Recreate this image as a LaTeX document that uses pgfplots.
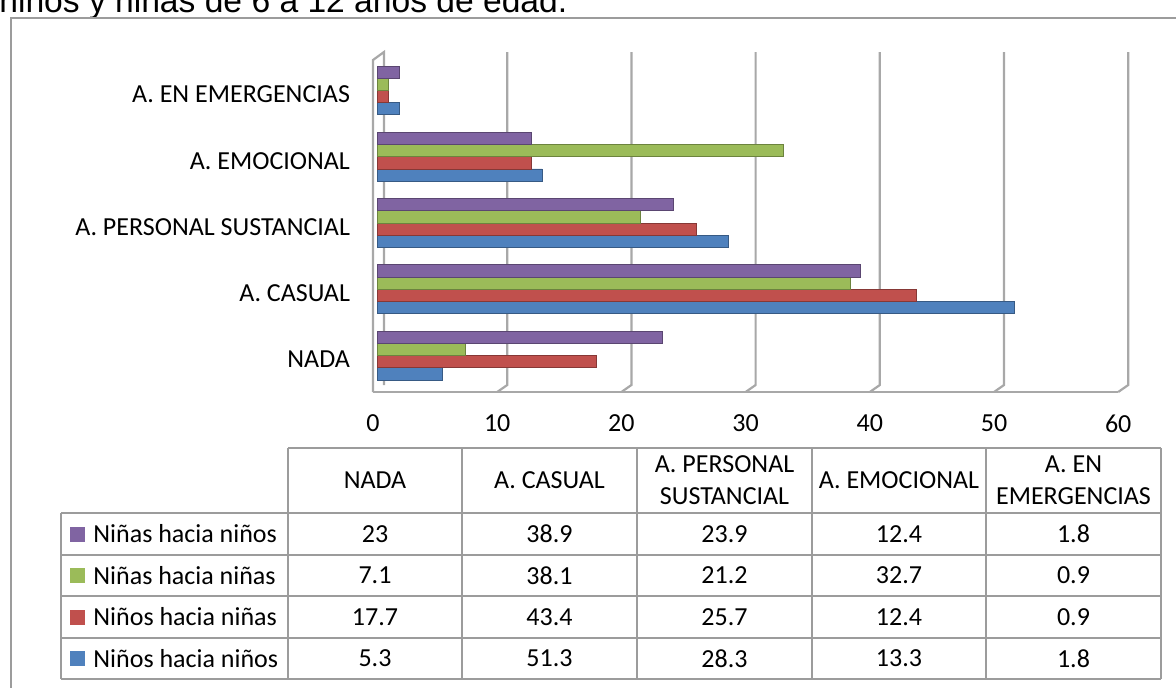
\documentclass[border=0pt]{standalone}
\usepackage{fontspec}
\setmainfont{Carlito}
\newfontfamily\arialfont{Liberation Sans}
\usepackage{pgfplots}
\usepackage{pgfplotstable}
\pgfplotsset{compat=1.18}

\definecolor{cblue}{HTML}{4F81BD}
\definecolor{cred}{HTML}{C0504D}
\definecolor{cgreen}{HTML}{9BBB59}
\definecolor{cpurple}{HTML}{8064A2}
\definecolor{gridc}{HTML}{A8A8A8}
\definecolor{tabc}{HTML}{9C9C9C}

% rows = categories (0 NADA ... 4 A. EN EMERGENCIAS)
\pgfplotstableread{
idx NN NNa NaNa NaN
0 5.3 17.7 7.1 23
1 51.3 43.4 38.1 38.9
2 28.3 25.7 21.2 23.9
3 13.3 12.4 32.7 12.4
4 1.8 0.9 0.9 1.8
}\data

\begin{document}
\fontsize{13}{16}\selectfont
\begin{tikzpicture}
\useasboundingbox (0,0) rectangle (588pt,-343.5pt);
\begin{scope}[x=0.5pt,y=-0.5pt]
\clip (0,0) rectangle (1176,687);
% title (cut at top)
\node[anchor=base west, inner sep=0, font=\arialfont\fontsize{16.8}{19}\selectfont] at (-1,12) {niños y niñas de 6 a 12 años de edad.};
% outer frame
\draw[tabc, line width=0.8pt] (11,720) -- (11,18) -- (1200,18);
% 3D walls and grid
\draw[gridc, line width=1.1pt] (373,392) -- (373,60) -- (384,52) -- (384,385);
\draw[gridc, line width=1.1pt] (373,392) -- (1118,392);
\foreach \v in {10,20,...,60} {
  \pgfmathsetmacro\xf{373+\v*12.42}
  \draw[gridc, line width=1.1pt] (\xf,392) -- (\xf+10,385) -- (\xf+10,52);
}
% data table grid
\draw[tabc, line width=0.8pt] (288,448) -- (1161,448);
\foreach \yy in {513,555,596,638,679} {
  \draw[tabc, line width=0.8pt] (61,\yy) -- (1161,\yy);
}
\draw[tabc, line width=0.8pt] (61,513) -- (61,679);
\foreach \xx in {288,462,637,812,986,1161} {
  \draw[tabc, line width=0.8pt] (\xx,448) -- (\xx,679);
}
% header
\node[align=center] at (375,480.5) {NADA};
\node[align=center] at (549.5,480.5) {A. CASUAL};
\node[align=center] at (724.5,480.5) {A. PERSONAL\\SUSTANCIAL};
\node[align=center] at (899,480.5) {A. EMOCIONAL};
\node[align=center] at (1073.5,480.5) {A. EN\\EMERGENCIAS};
% body
\foreach \s/\yy/\col/\lab in {NaN/534/cpurple/Niñas hacia niños, NaNa/575.5/cgreen/Niñas hacia niñas, NNa/617/cred/Niños hacia niñas, NN/658.5/cblue/Niños hacia niños} {
  \fill[\col] (70,\yy-7.5) rectangle (85,\yy+7.5);
  \node[anchor=west, inner sep=0] at (93,\yy) {\lab};
  \foreach \c/\xx in {0/375,1/549.5,2/724.5,3/899,4/1073.5} {
    \pgfplotstablegetelem{\c}{\s}\of\data
    \node at (\xx,\yy) {\pgfplotsretval};
  }
}
\end{scope}

\begin{axis}[
  at={(186.5pt,-196pt)}, anchor=south west,
  scale only axis, width=372.6pt, height=169pt,
  xmin=0, xmax=60, ymin=-0.55, ymax=4.55,
  axis line style={draw=none}, major tick length=0pt,
  xbar=0pt, bar width=6.1pt,
  xtick={0,10,...,60}, ytick={0,1,2,3,4},
  yticklabels={NADA, A. CASUAL, A. PERSONAL SUSTANCIAL, A. EMOCIONAL, A. EN EMERGENCIAS},
  xticklabel style={yshift=-7pt},
  yticklabel style={xshift=-7pt, yshift=-2pt},
  /pgf/number format/assume math mode=true,
  clip=false,
  every axis plot/.append style={xshift=2pt},
]
\addplot[fill=cblue, draw=cblue!70!black, line width=0.4pt] table[x=NN, y=idx] {\data};
\addplot[fill=cred, draw=cred!70!black, line width=0.4pt] table[x=NNa, y=idx] {\data};
\addplot[fill=cgreen, draw=cgreen!70!black, line width=0.4pt] table[x=NaNa, y=idx] {\data};
\addplot[fill=cpurple, draw=cpurple!70!black, line width=0.4pt] table[x=NaN, y=idx] {\data};
\end{axis}
\end{tikzpicture}
\end{document}
